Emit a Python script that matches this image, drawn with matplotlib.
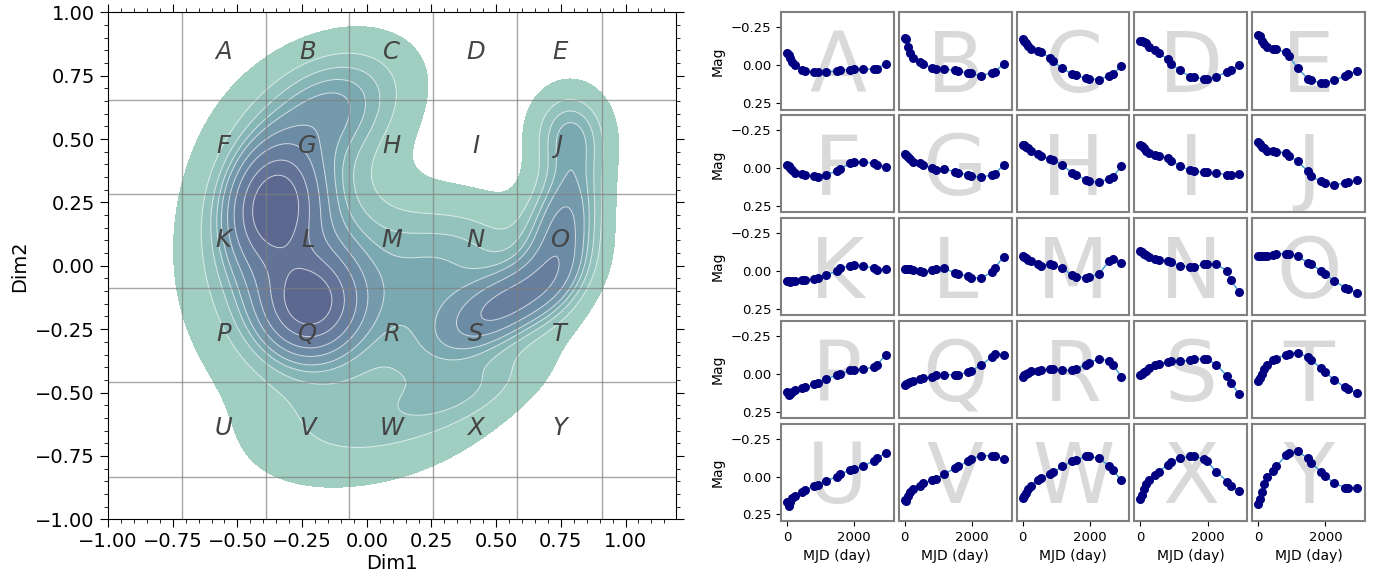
import numpy as np
import matplotlib.pyplot as plt
from matplotlib.colors import LinearSegmentedColormap
from matplotlib.ticker import MultipleLocator

# ---- left panel: 2D embedding density, described as a few blobs
blob_x = [-0.36, -0.22, -0.30, -0.13, 0.25, 0.00, 0.76, 0.55, 0.78, 0.40, 0.38]
blob_y = [0.24, -0.15, 0.05, 0.63, -0.15, -0.63, 0.15, -0.15, 0.53, -0.50, 0.08]
blob_sx = [0.11, 0.12, 0.23, 0.20, 0.25, 0.30, 0.10, 0.16, 0.10, 0.18, 0.22]
blob_sy = [0.15, 0.13, 0.33, 0.17, 0.24, 0.17, 0.20, 0.12, 0.12, 0.10, 0.14]
blob_rho = [0.1, 0.0, 0.0, 0.3, 0.0, 0.25, 0.3, 0.6, 0.0, 0.6, 0.0]
blob_w = [0.8, 0.7, 1.8, 0.6, 0.9, 0.45, 0.5, 0.4, 0.18, 0.09, 0.18]

letters = list("ABCDEFGHIJKLMNOPQRSTUVWXY")
col_edges = [-0.715, -0.39, -0.067, 0.257, 0.582, 0.908]
row_edges = [0.654, 0.283, -0.089, -0.46, -0.832]
letter_x = [-0.553, -0.228, 0.095, 0.42, 0.745]
letter_y = [0.845, 0.472, 0.103, -0.27, -0.64]

# ---- right panel: prototype light curves
mjd = [0, 50, 100, 160, 250, 450, 540, 820, 920, 1170, 1480, 1580, 1880, 1980, 2260, 2580, 2680, 2940]
mag = {
    "A": [-0.08, -0.07, -0.05, -0.02, 0.0, 0.03, 0.04, 0.045, 0.045, 0.045, 0.04, 0.035, 0.03, 0.028, 0.028, 0.025, 0.022, -0.01],
    "B": [-0.18, -0.17, -0.12, -0.08, -0.045, -0.02, -0.01, 0.02, 0.025, 0.025, 0.035, 0.04, 0.05, 0.055, 0.07, 0.05, 0.045, -0.01],
    "C": [-0.17, -0.16, -0.15, -0.13, -0.11, -0.095, -0.085, -0.05, -0.025, 0.02, 0.06, 0.065, 0.088, 0.09, 0.095, 0.07, 0.06, 0.005],
    "D": [-0.16, -0.16, -0.155, -0.145, -0.12, -0.1, -0.08, -0.04, -0.01, 0.035, 0.075, 0.08, 0.09, 0.09, 0.075, 0.045, 0.035, 0.0],
    "E": [-0.2, -0.19, -0.16, -0.14, -0.12, -0.11, -0.105, -0.085, -0.06, 0.02, 0.09, 0.1, 0.118, 0.115, 0.1, 0.07, 0.06, 0.038],
    "F": [-0.02, -0.015, 0.0, 0.015, 0.03, 0.04, 0.047, 0.055, 0.062, 0.045, 0.02, 0.005, -0.03, -0.038, -0.042, -0.03, -0.022, -0.007],
    "G": [-0.09, -0.085, -0.075, -0.06, -0.04, -0.03, -0.022, 0.0, 0.01, 0.004, 0.025, 0.03, 0.045, 0.05, 0.062, 0.045, 0.04, -0.022],
    "H": [-0.155, -0.15, -0.14, -0.13, -0.11, -0.09, -0.078, -0.06, -0.05, -0.022, 0.033, 0.044, 0.078, 0.085, 0.095, 0.07, 0.06, -0.011],
    "I": [-0.155, -0.145, -0.13, -0.11, -0.1, -0.089, -0.082, -0.065, -0.045, -0.016, 0.016, 0.022, 0.027, 0.028, 0.033, 0.044, 0.049, 0.04],
    "J": [-0.17, -0.16, -0.14, -0.13, -0.115, -0.11, -0.107, -0.1, -0.082, -0.044, 0.022, 0.056, 0.089, 0.1, 0.11, 0.1, 0.095, 0.078],
    "K": [0.065, 0.07, 0.075, 0.07, 0.065, 0.062, 0.058, 0.052, 0.05, 0.029, 0.0, -0.02, -0.033, -0.038, -0.033, -0.018, -0.005, -0.011],
    "L": [-0.01, -0.012, -0.012, -0.01, -0.008, 0.0, 0.005, -0.005, -0.015, -0.016, 0.011, 0.02, 0.035, 0.044, 0.049, 0.01, -0.02, -0.095],
    "M": [-0.1, -0.095, -0.085, -0.075, -0.065, -0.044, -0.035, -0.045, -0.04, -0.018, 0.029, 0.038, 0.044, 0.04, 0.022, -0.065, -0.078, -0.055],
    "N": [-0.13, -0.125, -0.115, -0.105, -0.09, -0.08, -0.073, -0.066, -0.06, -0.033, -0.027, -0.025, -0.044, -0.044, -0.044, 0.0, 0.06, 0.14],
    "O": [-0.1, -0.1, -0.098, -0.097, -0.1, -0.108, -0.11, -0.115, -0.11, -0.096, -0.055, -0.044, 0.0, 0.02, 0.067, 0.11, 0.12, 0.145],
    "P": [0.12, 0.14, 0.135, 0.12, 0.105, 0.095, 0.09, 0.067, 0.06, 0.033, 0.011, 0.0, -0.022, -0.027, -0.029, -0.045, -0.06, -0.125],
    "Q": [0.075, 0.07, 0.063, 0.055, 0.045, 0.035, 0.03, 0.02, 0.011, 0.007, 0.007, 0.006, -0.01, -0.02, -0.055, -0.11, -0.13, -0.125],
    "R": [0.02, 0.01, 0.005, -0.005, -0.015, -0.02, -0.022, -0.03, -0.033, -0.022, -0.022, -0.03, -0.06, -0.07, -0.1, -0.085, -0.06, 0.02],
    "S": [0.01, 0.0, -0.01, -0.02, -0.035, -0.055, -0.065, -0.078, -0.082, -0.082, -0.089, -0.095, -0.1, -0.098, -0.06, 0.015, 0.06, 0.135],
    "T": [0.045, 0.03, 0.0, -0.03, -0.06, -0.09, -0.1, -0.127, -0.133, -0.14, -0.11, -0.09, -0.035, -0.012, 0.04, 0.09, 0.104, 0.127],
    "U": [0.17, 0.195, 0.17, 0.145, 0.13, 0.1, 0.09, 0.06, 0.055, 0.029, 0.0, -0.015, -0.044, -0.05, -0.067, -0.105, -0.122, -0.156],
    "V": [0.155, 0.16, 0.13, 0.1, 0.08, 0.062, 0.044, 0.022, 0.015, -0.016, -0.055, -0.067, -0.1, -0.118, -0.138, -0.138, -0.133, -0.118],
    "W": [0.145, 0.13, 0.11, 0.08, 0.06, 0.02, 0.011, -0.016, -0.029, -0.067, -0.1, -0.111, -0.133, -0.133, -0.122, -0.07, -0.044, 0.025],
    "X": [0.15, 0.12, 0.08, 0.05, 0.02, -0.011, -0.033, -0.078, -0.096, -0.122, -0.133, -0.133, -0.118, -0.1, -0.033, 0.033, 0.06, 0.093],
    "Y": [0.18, 0.15, 0.1, 0.05, 0.0, -0.04, -0.067, -0.14, -0.155, -0.167, -0.12, -0.09, -0.03, -0.005, 0.044, 0.073, 0.073, 0.073],
}


def density(xx, yy):
    z = np.zeros_like(xx)
    for mx, my, sx, sy, r, w in zip(blob_x, blob_y, blob_sx, blob_sy, blob_rho, blob_w):
        dx = (xx - mx) / sx
        dy = (yy - my) / sy
        q = (dx**2 - 2*r*dx*dy + dy**2) / (1 - r**2)
        z += w * np.exp(-0.5*q) / (sx*sy*np.sqrt(1 - r**2))
    return z


def iso_levels(z, props):
    # same idea as seaborn's iso-proportion levels
    vals = np.sort(z.ravel())[::-1]
    cum = np.cumsum(vals) / vals.sum()
    idx = np.searchsorted(cum, 1 - np.asarray(props))
    return np.take(vals, idx, mode="clip")


fig = plt.figure(figsize=(13.74, 5.77), dpi=100)

# left panel
ax = fig.add_axes([108/1374, 1-519.3/577, 568/1374, 507/577])
gx, gy = np.meshgrid(np.linspace(-1.0, 1.25, 400), np.linspace(-1.05, 1.05, 400))
z = density(gx, gy)
levels = iso_levels(z, np.linspace(0.05, 1, 10))
cmap = LinearSegmentedColormap.from_list("kde", ["#a0cfc1", "#7eaeb3", "#6a86a3", "#5d6890"])
band_colors = [cmap(v) for v in np.linspace(0, 1, len(levels) - 1)]
ax.contourf(gx, gy, z, levels=levels, colors=band_colors)
ax.contour(gx, gy, z, levels=levels[1:], colors="white", linewidths=0.7, alpha=0.7)

for e in col_edges:
    ax.axvline(e, color="#808080", lw=1, alpha=0.7)
for e in row_edges:
    ax.axhline(e, color="#808080", lw=1, alpha=0.7)
for i, let in enumerate(letters):
    ax.text(letter_x[i % 5], letter_y[i // 5], let, ha="center", va="center",
            fontsize=17.5, style="italic", color="#444444")

ax.set_xlim(-1, 1.195)
ax.set_ylim(-1, 1)
ax.xaxis.set_major_locator(MultipleLocator(0.25))
ax.yaxis.set_major_locator(MultipleLocator(0.25))
ax.xaxis.set_minor_locator(MultipleLocator(0.05))
ax.yaxis.set_minor_locator(MultipleLocator(0.05))
ax.tick_params(which="both", direction="out", top=True, right=True, labelsize=14)
ax.tick_params(which="major", length=6)
ax.tick_params(which="minor", length=3)
ax.set_xlabel("Dim1", fontsize=14, labelpad=2)
ax.set_ylabel("Dim2", fontsize=14)

# right panel: 5x5 light curves
gs = fig.add_gridspec(5, 5, left=781/1374, right=1365/1374, top=1-12.3/577,
                      bottom=1-521/577, wspace=0.045, hspace=0.057)
for i, let in enumerate(letters):
    r, c = divmod(i, 5)
    a = fig.add_subplot(gs[r, c])
    a.text(0.5, 0.18, let, transform=a.transAxes, ha="center", va="baseline",
           fontsize=60, color="#d9d9d9", zorder=0)
    a.plot(mjd, mag[let], "-", color="#3a9bd5", lw=1, zorder=2)
    a.plot(mjd, mag[let], "o", color="navy", ms=6.5, mew=0, zorder=3)
    a.set_xlim(-175, 3175)
    a.set_ylim(0.294, -0.35)
    a.set_xticks([0, 2000])
    a.set_yticks([-0.25, 0.0, 0.25])
    for s in a.spines.values():
        s.set_color("#808080")
        s.set_linewidth(1.5)
    a.tick_params(labelsize=9.5, length=3.5)
    if c == 0:
        a.set_ylabel("Mag", fontsize=10)
    else:
        a.tick_params(labelleft=False, left=False)
    if r == 4:
        a.set_xlabel("MJD (day)", fontsize=10)
    else:
        a.tick_params(labelbottom=False, bottom=False)

fig.savefig("out.png", dpi=100)
